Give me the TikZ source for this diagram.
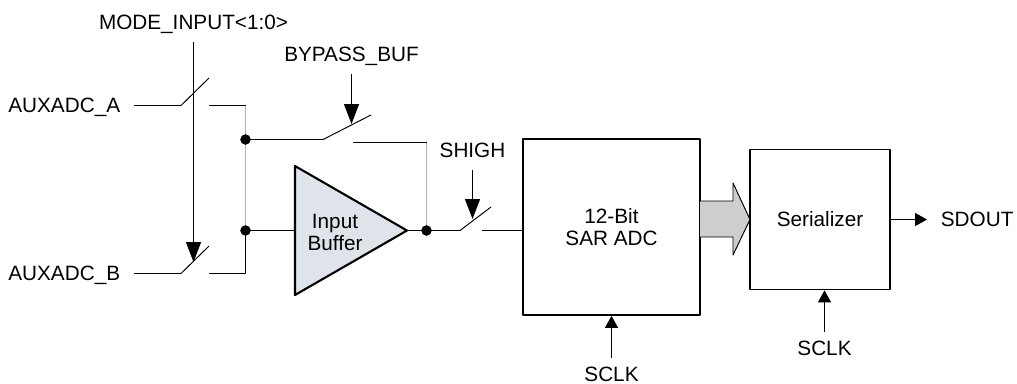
\documentclass[tikz,border=0pt]{standalone}
\usepackage{fontspec}
\setmainfont{Liberation Sans}
\usetikzlibrary{arrows.meta}
\definecolor{bufblue}{HTML}{DEE4EA}
\definecolor{busgray}{HTML}{CDCECF}
\definecolor{wiregray}{HTML}{B0B0B0}
\tikzset{
	wire/.style={line width=.55pt},
	lbl/.style={inner xsep=7.7pt, inner ysep=7pt, text height=8.3pt, text depth=0pt, font=\fontsize{11.8}{13}\selectfont},
	clklbl/.style={lbl, inner ysep=4.8pt},
	blockbox/.style={draw, line width=1pt, fill=white, align=center, font=\fontsize{11.8}{13}\selectfont},
	bigtip/.style={-{Triangle[length=11.3pt,width=8.5pt]}},
	smalltip/.style={-{Triangle[length=6.8pt,width=7.4pt]}}
}
\begin{document}
\begin{tikzpicture}[x=.02cm, y=-.02cm, line join=round]
	\useasboundingbox (0,0) rectangle (1017,383);
	\coordinate (swAin) at (181,105.5);
	\coordinate (swAtop) at (209,78);
	\coordinate (swAout) at (209,105.5);
	\coordinate (swBin) at (181,273.5);
	\coordinate (swBtop) at (209,246);
	\coordinate (swBout) at (209,273.5);
	\coordinate (railA) at (245.5,105.5);
	\coordinate (railB) at (245.5,273.5);
	\coordinate (jBypass) at (245.5,139.5);
	\coordinate (jBuf) at (245.5,230.5);
	\coordinate (swPin) at (323,139.5);
	\coordinate (swPtop) at (371,115);
	\coordinate (swPout) at (353,142.5);
	\coordinate (fbTop) at (426.5,142.5);
	\coordinate (jOut) at (426.5,230.5);
	\coordinate (swSin) at (460,230.5);
	\coordinate (swStop) at (491,207);
	\coordinate (swSout) at (482,230.5);
	\coordinate (bufA) at (295,166);
	\coordinate (bufB) at (295,295);
	\coordinate (bufIn) at (295,230.5);
	\coordinate (bufTip) at (407,230.5);
	\node[lbl] (mode) at (193.5,22) {MODE\_INPUT<1:0>};
	\node[lbl] (bypass) at (351.5,54) {BYPASS\_BUF};
	\node[lbl, anchor=east] (auxa) at (134,105.5) {AUXADC\_A};
	\node[lbl, anchor=east] (auxb) at (134,273.5) {AUXADC\_B};
	\node[lbl] (shigh) at (472.5,150) {SHIGH};
	\node[blockbox, minimum width=3.54cm, minimum height=3.52cm] (adc) at (611.5,227) {12-Bit\\SAR ADC};
	\node[blockbox, minimum width=2.8cm, minimum height=2.8cm] (ser) at (820,219.5) {Serializer};
	\node[clklbl] (sclkA) at (611.5,374) {SCLK};
	\node[clklbl] (sclkB) at (824.5,348) {SCLK};
	\node[lbl, anchor=west] (sdout) at (927,219.5) {SDOUT};
	\draw[wire] (auxa.east) -- (swAin) -- (swAtop);
	\draw[wire] (auxb.east) -- (swBin) -- (swBtop);
	\draw[wire] (swAout) -- (railA);
	\draw[wire] (swBout) -- (railB) -- (jBuf);
	\draw[wire, wiregray] (railA) -- (jBuf);
	\draw[wire] (jBypass) -- (swPin) -- (swPtop);
	\draw[wire] (swPout) -- (fbTop);
	\draw[wire, wiregray] (fbTop) -- (jOut);
	\draw[wire] (jBuf) -- (bufIn);
	\draw[wire] (bufTip) -- (swSin) -- (swStop);
	\draw[wire] (swSout) -- (swSout -| adc.west);
	\draw[line width=1.2pt, fill=bufblue] (bufA) -- (bufTip) -- (bufB) -- cycle;
	\node[align=center, inner sep=0pt, font=\fontsize{11.8}{12.5}\selectfont] (bufTxt) at (335,232) {Input\\Buffer};
	\draw[wire, fill=busgray] (700,201) -- (733,201) -- (733,183) -- (750,219.5) -- (733,255) -- (733,237) -- (700,237);
	\draw[wire, bigtip] (mode.south) -- (193.5,262);
	\draw[wire, bigtip] (bypass.south) -- (351.5,124);
	\draw[wire, bigtip] (shigh.south) -- (472.5,219);
	\draw[wire, smalltip] (sclkA.north) -- (adc.south);
	\draw[wire, smalltip] (sclkB.north) -- (sclkB |- ser.south);
	\draw[wire, smalltip] (ser.east) -- (sdout.west);
	\foreach \p in {jBypass, jBuf, jOut}
	\fill (\p) circle (3pt);
\end{tikzpicture}
\end{document}
